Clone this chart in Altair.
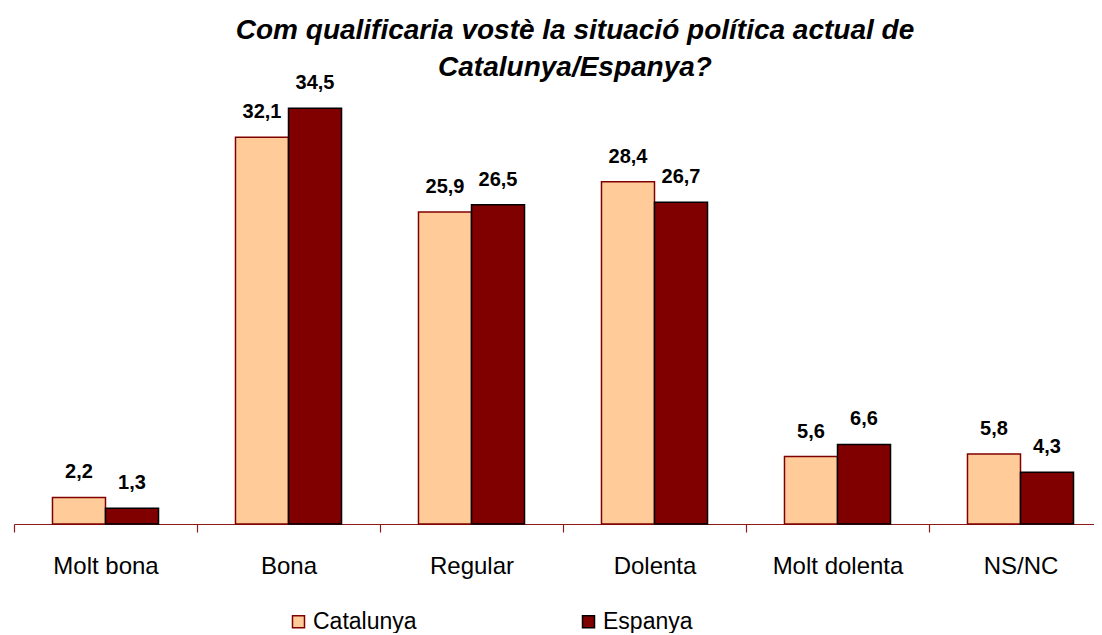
import altair as alt
import pandas as pd

categories = ["Molt bona", "Bona", "Regular", "Dolenta", "Molt dolenta", "NS/NC"]
series = ["Catalunya", "Espanya"]
catalunya = [2.2, 32.1, 25.9, 28.4, 5.6, 5.8]
espanya = [1.3, 34.5, 26.5, 26.7, 6.6, 4.3]

rows = []
for i, c in enumerate(categories):
    rows.append({"cat": c, "serie": "Catalunya", "value": catalunya[i]})
    rows.append({"cat": c, "serie": "Espanya", "value": espanya[i]})
df = pd.DataFrame(rows)

FONT = "Liberation Sans"

x_enc = alt.X("cat:N", sort=categories,
              scale=alt.Scale(paddingInner=0, paddingOuter=0, range=[0, 1098]),
              axis=alt.Axis(title=None, labelAngle=0, labelFont=FONT, labelFontSize=24,
                            labelColor="black", labelPadding=22, domainColor="#8B1A1A",
                            domainWidth=1.2, tickColor="#8B1A1A", tickSize=8, tickWidth=1.2,
                            tickBand="extent", grid=False))
xoff = alt.XOffset("serie:N", sort=series,
                   scale=alt.Scale(paddingInner=0, paddingOuter=0.726))
y_enc = alt.Y("value:Q", scale=alt.Scale(domain=[0, 40], nice=False), axis=None)

bars = alt.Chart(df).mark_bar(strokeWidth=1.5).encode(
    x=x_enc,
    xOffset=xoff,
    y=y_enc,
    fill=alt.Fill("serie:N", sort=series,
                  scale=alt.Scale(domain=series, range=["#FFCC99", "#800000"]),
                  legend=alt.Legend(title=None, orient="none", legendX=273, legendY=568,
                                    direction="horizontal", columns=2, columnPadding=160,
                                    symbolType="square", symbolSize=144,
                                    symbolStrokeWidth=1.5, labelFont=FONT,
                                    labelFontSize=23, labelColor="black", labelOffset=3,
                                    padding=0)),
    stroke=alt.Stroke("serie:N", sort=series,
                      scale=alt.Scale(domain=series, range=["#800000", "#000000"]),
                      legend=None),
)

labels = alt.Chart(df).transform_calculate(
    lbl="replace(format(datum.value, '.1f'), '.', ',')"
).mark_text(font=FONT, fontSize=20, fontWeight="bold", color="black",
            baseline="alphabetic", dy=-19).encode(
    x=x_enc,
    xOffset=xoff,
    y=y_enc,
    text="lbl:N",
)

chart = alt.layer(bars, labels).properties(
    width=1080,
    height=482,
    padding={"left": 6, "top": 34, "right": 0, "bottom": 109},
    autosize=alt.AutoSizeParams(type="none"),
    title=alt.TitleParams(
        text=["Com qualificaria vostè la situació política actual de", "Catalunya/Espanya?"],
        font=FONT, fontSize=28, fontWeight="bold", fontStyle="italic", color="black",
        anchor="middle", lineHeight=37, dx=21, dy=40, offset=0),
).configure_view(stroke=None)

chart.save("out.html", embed_options={"renderer": "svg", "actions": False})
